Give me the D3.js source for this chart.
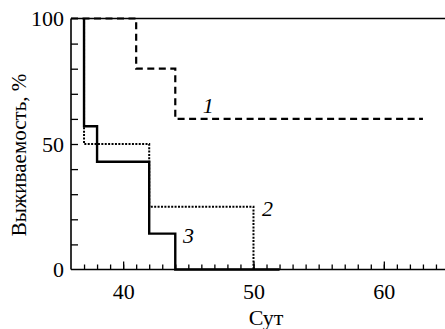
<!DOCTYPE html>
<html>
<head>
<meta charset="utf-8">
<script src="https://cdn.jsdelivr.net/npm/d3@7"></script>
<style>
  body { margin: 0; background: #fff; }
  svg { display: block; }
</style>
</head>
<body>
<div id="chart"></div>
<script>
// survival curves, day vs %
const days1 = [36, 41, 44, 63];
const surv1 = [100, 80, 60, 60];
const days2 = [37, 37, 42, 50];
const surv2 = [100, 50, 25, 0];
const days3 = [37, 37, 38, 42, 44, 52];
const surv3 = [100, 57.1, 42.9, 14.3, 0, 0];
const xMajor = [40, 50, 60];
const yMajor = [0, 50, 100];
const curveLabels = ["1", "2", "3"];

const W = 445, H = 329;
const FONT = '"Liberation Serif", "Times New Roman", serif';
const svg = d3.select("#chart").append("svg")
  .attr("width", W).attr("height", H);

const x = d3.scaleLinear().domain([36, 65]).range([71, 449]);
const y = d3.scaleLinear().domain([0, 100]).range([269.5, 18.5]);

// frame lines
const frame = svg.append("g").attr("stroke", "#000").attr("stroke-width", 1.6);
frame.append("line").attr("x1", x(36)).attr("x2", W).attr("y1", y(100)).attr("y2", y(100));
frame.append("line").attr("x1", x(36)).attr("x2", W).attr("y1", y(0)).attr("y2", y(0));
frame.append("line").attr("x1", x(36)).attr("x2", x(36)).attr("y1", y(0)).attr("y2", y(100));

// x minor ticks
svg.append("g")
  .attr("transform", `translate(0,${y(0)})`)
  .call(d3.axisBottom(x).tickValues(d3.range(37, 65)).tickSize(-5).tickFormat(""))
  .call(g => g.select(".domain").remove())
  .call(g => g.selectAll("line").attr("stroke-width", 1.3));

// x major ticks + labels
svg.append("g")
  .attr("transform", `translate(0,${y(0)})`)
  .call(d3.axisBottom(x).tickValues(xMajor).tickSize(-8).tickPadding(14))
  .attr("font-family", null)
  .call(g => g.select(".domain").remove())
  .call(g => g.selectAll("line").attr("stroke-width", 1.3))
  .call(g => g.selectAll("text").attr("font-size", 22).style("font-family", FONT));

// y ticks
svg.append("g")
  .attr("transform", `translate(${x(36)},0)`)
  .call(d3.axisLeft(y).tickValues(d3.range(10, 100, 10)).tickSize(-7).tickFormat(""))
  .call(g => g.select(".domain").remove())
  .call(g => g.selectAll("line").attr("stroke-width", 1.3));

svg.append("g")
  .attr("transform", `translate(${x(36)},0)`)
  .call(d3.axisLeft(y).tickValues(yMajor).tickSize(0).tickPadding(7))
  .attr("font-family", null)
  .call(g => g.select(".domain").remove())
  .call(g => g.selectAll("text").attr("font-size", 22).style("font-family", FONT));

// axis titles
svg.append("text")
  .attr("transform", "translate(26,155) rotate(-90)")
  .attr("text-anchor", "middle")
  .attr("font-size", 21)
  .style("font-family", FONT)
  .text("Выживаемость, %");

svg.append("text")
  .attr("x", 266).attr("y", 325)
  .attr("text-anchor", "middle")
  .attr("font-size", 22)
  .style("font-family", FONT)
  .text("Сут");

// curves
const line = d3.line().x(d => x(d[0])).y(d => y(d[1])).curve(d3.curveStepAfter);

svg.append("path")
  .datum(d3.zip(days2, surv2))
  .attr("d", line).attr("fill", "none").attr("stroke", "#000")
  .attr("stroke-width", 2).attr("stroke-dasharray", "2,1.4");

svg.append("path")
  .datum(d3.zip(days3, surv3))
  .attr("d", line).attr("fill", "none").attr("stroke", "#000")
  .attr("stroke-width", 2.4);

svg.append("path")
  .datum(d3.zip(days1, surv1))
  .attr("d", line).attr("fill", "none").attr("stroke", "#000")
  .attr("stroke-width", 2.2).attr("stroke-dasharray", "7,4.5");

// curve numbers
const labelPos = [[46.1, 62.3], [50.65, 21.5], [44.6, 10.5]];
svg.selectAll(".num").data(curveLabels).join("text")
  .attr("class", "num")
  .attr("x", (d, i) => x(labelPos[i][0]))
  .attr("y", (d, i) => y(labelPos[i][1]))
  .attr("font-size", 22).attr("font-style", "italic")
  .style("font-family", FONT)
  .text(d => d);
</script>
</body>
</html>
